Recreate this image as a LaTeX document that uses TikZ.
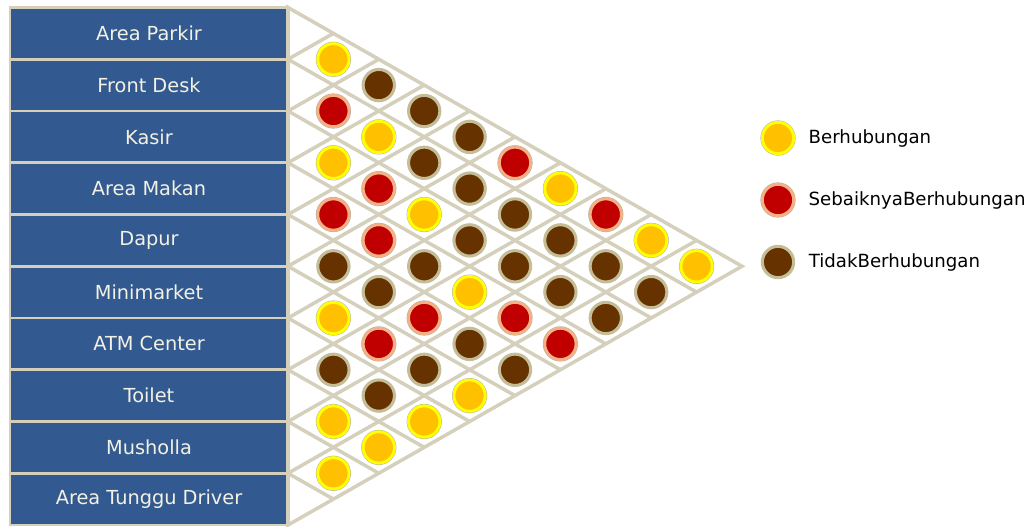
\documentclass[tikz,border=0pt]{standalone}
\usepackage{fontspec}
\setmainfont{DejaVu Sans}
\usetikzlibrary{positioning}

\definecolor{roomblue}{RGB}{50,90,145}
\definecolor{gridtan}{RGB}{212,208,188}
\definecolor{labelcream}{RGB}{243,241,228}
\definecolor{yesfill}{RGB}{255,192,0}
\definecolor{yesring}{RGB}{255,255,0}
\definecolor{shouldfill}{RGB}{192,0,0}
\definecolor{shouldring}{RGB}{244,177,131}
\definecolor{nofill}{RGB}{102,51,0}
\definecolor{noring}{RGB}{196,189,151}

\begin{document}
\begin{tikzpicture}[
  x=0.03cm, y=-0.03cm,
  every node/.style={font=\fontsize{15.5}{18}\selectfont},
  room/.style={
    rectangle, draw=gridtan, line width=2.4pt, fill=roomblue,
    minimum width=8.34cm, minimum height=1.5525cm,
    text=labelcream, inner sep=0pt, font=\fontsize{16.5}{19}\selectfont
  },
  grid/.style={draw=gridtan, line width=3pt},
  yes/.style={
    circle, fill=yesfill, draw=yesring, line width=2.5pt,
    minimum size=0.94cm, inner sep=0pt,
    preaction={draw=black!30, line width=3.3pt}
  },
  should/.style={
    circle, fill=shouldfill, draw=shouldring, line width=2.5pt,
    minimum size=0.94cm, inner sep=0pt,
    preaction={draw=black!30, line width=3.3pt}
  },
  no/.style={
    circle, fill=nofill, draw=noring, line width=2.6pt,
    minimum size=0.94cm, inner sep=0pt
  },
  legtext/.style={anchor=west, inner sep=0pt, text=black}
]
\useasboundingbox (0,0) rectangle (1033,526);

% Rooms
\node[room] (parkir) at (149,33.4) {Area Parkir};
\node[room] (desk) at (149,85.1) {Front Desk};
\node[room] (kasir) at (149,136.9) {Kasir};
\node[room] (makan) at (149,188.6) {Area Makan};
\node[room] (dapur) at (149,240.4) {Dapur};
\node[room] (minimarket) at (149,292.1) {Minimarket};
\node[room] (atm) at (149,343.9) {ATM Center};
\node[room] (toilet) at (149,395.6) {Toilet};
\node[room] (musholla) at (149,447.4) {Musholla};
\node[room] (driver) at (149,499.1) {Area Tunggu Driver};

% Matrix outline
\coordinate (top) at (288,7.5);
\coordinate (tip) at (742,266.25);
\coordinate (bot) at (288,525);
\coordinate (b1) at (288,59.25);
\coordinate (b2) at (288,111);
\coordinate (b3) at (288,162.75);
\coordinate (b4) at (288,214.5);
\coordinate (b5) at (288,266.25);
\coordinate (b6) at (288,318);
\coordinate (b7) at (288,369.75);
\coordinate (b8) at (288,421.5);
\coordinate (b9) at (288,473.25);

\draw[grid] (b1) -- ++(408.6,232.875) (b2) -- ++(363.2,207)
  (b3) -- ++(317.8,181.125) (b4) -- ++(272.4,155.25)
  (b5) -- ++(227,129.375) (b6) -- ++(181.6,103.5)
  (b7) -- ++(136.2,77.625) (b8) -- ++(90.8,51.75)
  (b9) -- ++(45.4,25.875);
\draw[grid] (b1) -- ++(45.4,-25.875) (b2) -- ++(90.8,-51.75)
  (b3) -- ++(136.2,-77.625) (b4) -- ++(181.6,-103.5)
  (b5) -- ++(227,-129.375) (b6) -- ++(272.4,-155.25)
  (b7) -- ++(317.8,-181.125) (b8) -- ++(363.2,-207)
  (b9) -- ++(408.6,-232.875);
\draw[grid] (top) -- (tip) -- (bot) -- cycle;

% Area Parkir
\node[yes] (p-0-1) at (333.4,59.3) {};
\node[no] (p-0-2) at (378.8,85.1) {};
\node[no] (p-0-3) at (424.2,111) {};
\node[no] (p-0-4) at (469.6,136.9) {};
\node[should] (p-0-5) at (515,162.8) {};
\node[yes] (p-0-6) at (560.4,188.6) {};
\node[should] (p-0-7) at (605.8,214.5) {};
\node[yes] (p-0-8) at (651.2,240.4) {};
\node[yes] (p-0-9) at (696.6,266.3) {};

% Front Desk
\node[should] (p-1-2) at (333.4,111) {};
\node[yes] (p-1-3) at (378.8,136.9) {};
\node[no] (p-1-4) at (424.2,162.8) {};
\node[no] (p-1-5) at (469.6,188.6) {};
\node[no] (p-1-6) at (515,214.5) {};
\node[no] (p-1-7) at (560.4,240.4) {};
\node[no] (p-1-8) at (605.8,266.3) {};
\node[no] (p-1-9) at (651.2,292.1) {};

% Kasir
\node[yes] (p-2-3) at (333.4,162.8) {};
\node[should] (p-2-4) at (378.8,188.6) {};
\node[yes] (p-2-5) at (424.2,214.5) {};
\node[no] (p-2-6) at (469.6,240.4) {};
\node[no] (p-2-7) at (515,266.3) {};
\node[no] (p-2-8) at (560.4,292.1) {};
\node[no] (p-2-9) at (605.8,318) {};

% Area Makan
\node[should] (p-3-4) at (333.4,214.5) {};
\node[should] (p-3-5) at (378.8,240.4) {};
\node[no] (p-3-6) at (424.2,266.3) {};
\node[yes] (p-3-7) at (469.6,292.1) {};
\node[should] (p-3-8) at (515,318) {};
\node[should] (p-3-9) at (560.4,343.9) {};

% Dapur
\node[no] (p-4-5) at (333.4,266.3) {};
\node[no] (p-4-6) at (378.8,292.1) {};
\node[should] (p-4-7) at (424.2,318) {};
\node[no] (p-4-8) at (469.6,343.9) {};
\node[no] (p-4-9) at (515,369.8) {};

% Minimarket
\node[yes] (p-5-6) at (333.4,318) {};
\node[should] (p-5-7) at (378.8,343.9) {};
\node[no] (p-5-8) at (424.2,369.8) {};
\node[yes] (p-5-9) at (469.6,395.6) {};

% ATM Center
\node[no] (p-6-7) at (333.4,369.8) {};
\node[no] (p-6-8) at (378.8,395.6) {};
\node[yes] (p-6-9) at (424.2,421.5) {};

% Toilet, Musholla
\node[yes] (p-7-8) at (333.4,421.5) {};
\node[yes] (p-7-9) at (378.8,447.4) {};
\node[yes] (p-8-9) at (333.4,473.3) {};

% Legend
\node[yes] (lyes) at (778,138) {};
\node[should] (lshould) at (778,200) {};
\node[no] (lno) at (778,262) {};
\node[legtext, right=0.4cm of lyes] (tyes) {Berhubungan};
\node[legtext, right=0.4cm of lshould] (tshould) {SebaiknyaBerhubungan};
\node[legtext, right=0.4cm of lno] (tno) {TidakBerhubungan};

\end{tikzpicture}
\end{document}
